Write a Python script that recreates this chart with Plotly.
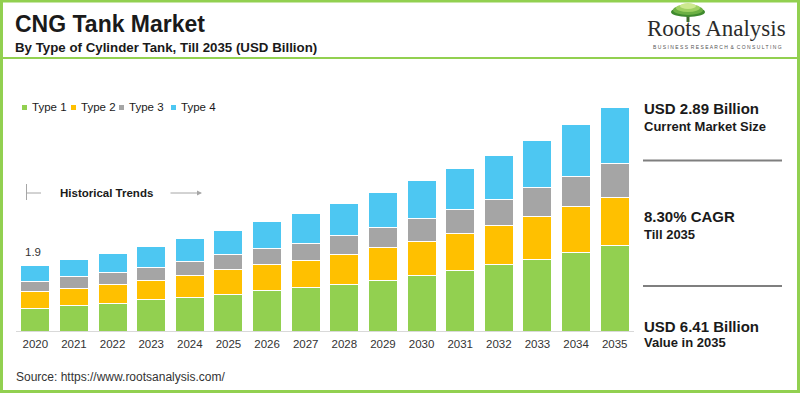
import plotly.graph_objects as go

# ---------------- data ----------------
years = [str(y) for y in range(2020, 2036)]
type1 = [0.65, 0.72, 0.80, 0.89, 0.97, 1.04, 1.15, 1.24, 1.34, 1.46, 1.60, 1.74, 1.90, 2.06, 2.25, 2.44]
type2 = [0.48, 0.51, 0.54, 0.56, 0.63, 0.71, 0.75, 0.78, 0.86, 0.94, 0.97, 1.06, 1.12, 1.22, 1.31, 1.40]
type3 = [0.29, 0.32, 0.34, 0.37, 0.38, 0.43, 0.46, 0.50, 0.55, 0.57, 0.66, 0.69, 0.75, 0.82, 0.88, 0.97]
type4 = [0.45, 0.50, 0.53, 0.61, 0.66, 0.69, 0.77, 0.86, 0.91, 1.00, 1.07, 1.16, 1.26, 1.36, 1.48, 1.59]
series_names = ["Type 1", "Type 2", "Type 3", "Type 4"]
series_colors = ["#92D050", "#FFC000", "#A5A5A5", "#4DC7F2"]
first_label = "1.9"

# ---------------- layout geometry ----------------
W, H = 800, 393
L, R, T, B = 16, 166, 100, 62
PW, PH = W - L - R, H - T - B


def px(x):
    return (x - L) / PW


def py(y):
    return (H - B - y) / PH


FONT = "Arial, Liberation Sans, sans-serif"
DARK = "#1a1a1a"
GREEN = "#92D050"

fig = go.Figure()
for name, vals, col in zip(series_names, [type1, type2, type3, type4], series_colors):
    fig.add_trace(go.Bar(
        x=years, y=vals, name=name, marker=dict(color=col, line=dict(color="white", width=1)),
        showlegend=False, hoverinfo="x+y+name",
    ))

shapes = []
annotations = []

# frame border and line under subtitle
shapes.append(dict(type="rect", xref="paper", yref="paper", x0=px(1.5), x1=px(798.5), y0=py(1), y1=py(391.5),
                   line=dict(color=GREEN, width=3), layer="above"))
shapes.append(dict(type="line", xref="paper", yref="paper", x0=px(0), x1=px(800), y0=py(58), y1=py(58),
                   line=dict(color=GREEN, width=2)))

# titles
annotations.append(dict(xref="paper", yref="paper", x=px(13), y=py(24), xanchor="left", yanchor="middle",
                        text="<b>CNG Tank Market</b>", showarrow=False,
                        font=dict(family=FONT, size=23, color=DARK)))
annotations.append(dict(xref="paper", yref="paper", x=px(13), y=py(47), xanchor="left", yanchor="middle",
                        text="<b>By Type of Cylinder Tank, Till 2035 (USD Billion)</b>", showarrow=False,
                        font=dict(family=FONT, size=13.3, color=DARK)))

# logo (tree above the text)
tree = [(688, 12, 17, 5, "#3f8a2e"), (688, 10, 15, 5, "#6cb043"), (688, 8, 12, 4, "#9fd162"),
        (688, 6, 8, 3, "#cde98f")]
shapes.append(dict(type="line", xref="paper", yref="paper", x0=px(688), x1=px(688), y0=py(12), y1=py(22),
                   line=dict(color="#3d6b2a", width=3)))
for cx, cy, rx, ry, col in tree:
    shapes.append(dict(type="circle", xref="paper", yref="paper", x0=px(cx - rx), x1=px(cx + rx),
                       y0=py(cy - ry), y1=py(cy + ry), fillcolor=col, line=dict(width=0)))
annotations.append(dict(xref="paper", yref="paper", x=px(645), y=py(28.5), xanchor="left", yanchor="middle",
                        text="Roots Analysis", showarrow=False,
                        font=dict(family="Liberation Serif, Times New Roman, serif", size=23, color="#2b2b2b")))
annotations.append(dict(xref="paper", yref="paper", x=px(717), y=py(47), xanchor="center", yanchor="middle",
                        text=" ".join("BUSINESS RESEARCH & CONSULTING").replace("   ", "  "), showarrow=False,
                        font=dict(family=FONT, size=5, color="#555555")))

# legend (manual)
leg_sq = [22, 71, 119, 171]
for x0, name, col in zip(leg_sq, series_names, series_colors):
    shapes.append(dict(type="rect", xref="paper", yref="paper", x0=px(x0), x1=px(x0 + 5), y0=py(105), y1=py(110),
                       fillcolor=col, line=dict(width=0)))
    annotations.append(dict(xref="paper", yref="paper", x=px(x0 + 8), y=py(107.5), xanchor="left", yanchor="middle",
                            text=name, showarrow=False, font=dict(family=FONT, size=11.5, color=DARK)))

# historical trends
HG = "#a6a6a6"
shapes.append(dict(type="line", xref="paper", yref="paper", x0=px(26.5), x1=px(26.5), y0=py(184), y1=py(200),
                   line=dict(color=HG, width=1)))
shapes.append(dict(type="line", xref="paper", yref="paper", x0=px(26.5), x1=px(41), y0=py(193), y1=py(193),
                   line=dict(color=HG, width=1)))
annotations.append(dict(xref="paper", yref="paper", x=px(58), y=py(193), xanchor="left", yanchor="middle",
                        text="<b>Historical Trends</b>", showarrow=False,
                        font=dict(family=FONT, size=11.5, color=DARK)))
annotations.append(dict(xref="paper", yref="paper", x=px(202), y=py(193), ax=-33, ay=0, text="",
                        showarrow=True, arrowhead=2, arrowsize=1, arrowwidth=1, arrowcolor=HG))

# first bar label
annotations.append(dict(xref="paper", yref="y", x=px(32.5),
                        y=type1[0] + type2[0] + type3[0] + type4[0], yanchor="bottom", yshift=6,
                        xanchor="center", text=first_label, showarrow=False,
                        font=dict(family=FONT, size=11.5, color="#333333")))

# right panel
panel = [
    ("USD 2.89 Billion", 108, 15), ("Current Market Size", 126, 13),
    ("8.30% CAGR", 216.5, 15), ("Till 2035", 234, 13),
    ("USD 6.41 Billion", 326, 15), ("Value in 2035", 342, 13),
]
for txt, y, s in panel:
    annotations.append(dict(xref="paper", yref="paper", x=px(642), y=py(y), xanchor="left", yanchor="middle",
                            text=f"<b>{txt}</b>", showarrow=False, font=dict(family=FONT, size=s, color=DARK)))
for y in (160.5, 286):
    shapes.append(dict(type="line", xref="paper", yref="paper", x0=px(643), x1=px(782), y0=py(y), y1=py(y),
                       line=dict(color="#7f7f7f", width=2)))

# source
annotations.append(dict(xref="paper", yref="paper", x=px(14), y=py(377), xanchor="left", yanchor="middle",
                        text="Source: https://www.rootsanalysis.com/", showarrow=False,
                        font=dict(family=FONT, size=12, color="#333333")))

fig.update_layout(
    width=W, height=H, margin=dict(l=L, r=R, t=T, b=B, pad=0),
    barmode="stack", bargap=0.25,
    plot_bgcolor="white", paper_bgcolor="white",
    shapes=shapes, annotations=annotations,
    xaxis=dict(type="category", showline=True, linecolor="#d9d9d9", linewidth=1, ticks="",
               tickfont=dict(family=FONT, size=11.5, color="#333333"), showgrid=False, range=[-0.5, 15.5],
               fixedrange=True, ticklabelstandoff=2),
    yaxis=dict(visible=False, range=[0, 6.62], showgrid=False, fixedrange=True),
    font=dict(family=FONT),
)

fig.write_html("out.html", config={"displayModeBar": False},
               post_script="document.body.style.margin='0';document.body.style.overflow='hidden';")
